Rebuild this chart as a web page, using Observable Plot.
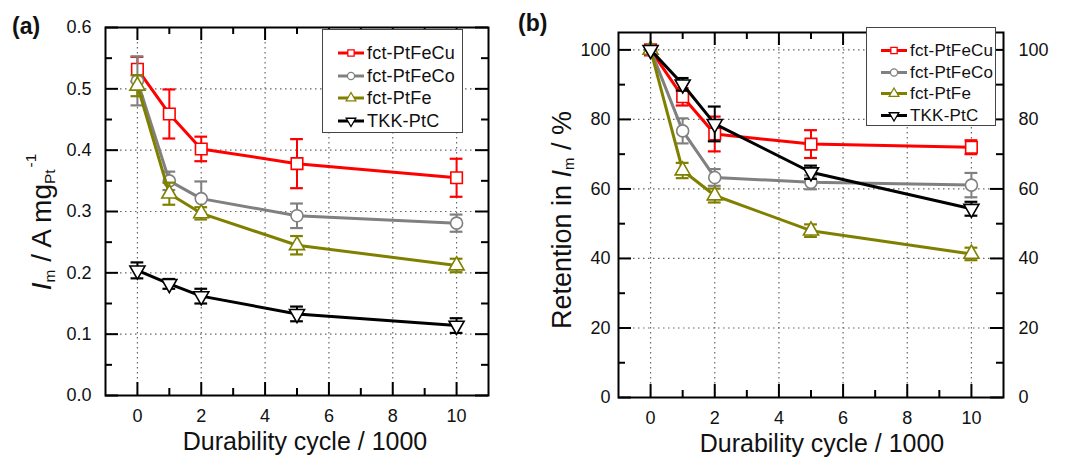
<!DOCTYPE html>
<html>
<head>
<meta charset="utf-8">
<script src="https://cdn.jsdelivr.net/npm/d3@7"></script>
<script src="https://cdn.jsdelivr.net/npm/@observablehq/plot@0.6"></script>
<style>
  body { margin: 0; background: #fff; font-family: "Liberation Sans", Arial, sans-serif; color: #111; }
  #wrap { position: relative; width: 1065px; height: 461px; overflow: hidden; }
  .panel { position: absolute; top: 0; }
  .panel svg { overflow: visible; }
  .plabel { position: absolute; font-weight: bold; font-size: 23px; line-height: 1; transform: translateY(-50%); }
  .ylab { position: absolute; white-space: nowrap; line-height: 1; transform: translate(-50%, -50%) rotate(-90deg); }
  .ylab sub { font-size: 0.55em; vertical-align: -0.2em; }
  .ylab sup { font-size: 0.55em; vertical-align: 1.0em; margin-left: 2px; }
  .legend { position: absolute; background: #fff; border: 1.5px solid #444; box-sizing: border-box; }
  .lrow { position: absolute; display: flex; align-items: center; white-space: nowrap; line-height: 1; transform: translateY(-50%); letter-spacing: 0.2px; }
  .lrow svg { display: block; margin-right: 3px; }
</style>
</head>
<body>
<div id="wrap"></div>
<script>
// ---------- data ----------
const cycles = [0, 1, 2, 5, 10];
const seriesNames = ["fct-PtFeCu", "fct-PtFeCo", "fct-PtFe", "TKK-PtC"];
const seriesColors = ["#ff0000", "#808080", "#808000", "#000000"];

// (a) mass activity, A mg_Pt^-1
const aPtFeCu = [0.532, 0.459, 0.402, 0.378, 0.355];
const aPtFeCuErr = [0.02, 0.04, 0.02, 0.04, 0.031];
const aPtFeCo = [0.513, 0.350, 0.321, 0.293, 0.281];
const aPtFeCoErr = [0.04, 0.015, 0.028, 0.02, 0.014];
const aPtFe = [0.505, 0.329, 0.297, 0.245, 0.212];
const aPtFeErr = [0.017, 0.018, 0.01, 0.015, 0.011];
const aPtC = [0.204, 0.182, 0.162, 0.133, 0.114];
const aPtCErr = [0.013, 0.008, 0.012, 0.012, 0.012];

// (b) retention, %
const bPtFeCu = [100, 86.5, 75.8, 72.9, 72.0];
const bPtFeCuErr = [0, 2.5, 5, 4, 2];
const bPtFeCo = [100, 76.7, 63.3, 61.9, 61.1];
const bPtFeCoErr = [0, 3.6, 2.4, 2, 3.5];
const bPtFe = [100, 65.3, 58.1, 48.0, 41.3];
const bPtFeErr = [0, 2.2, 2, 1.8, 1.8];
const bPtC = [100, 90.1, 78.7, 64.8, 54.3];
const bPtCErr = [0, 1.8, 5, 1.9, 2];

// ticks
const xTicks = [0, 2, 4, 6, 8, 10];
const xMinor = [1, 3, 5, 7, 9];
const aYTicks = [0, 0.1, 0.2, 0.3, 0.4, 0.5, 0.6];
const aYMinor = [0.05, 0.15, 0.25, 0.35, 0.45, 0.55];
const bYTicks = [0, 20, 40, 60, 80, 100];
const bYMinor = [10, 30, 50, 70, 90];

const xLabel = "Durability cycle / 1000";

// ---------- symbols ----------
const sqrt3 = Math.sqrt(3);
const triangleDown = {
  draw(context, size) {
    const y = -Math.sqrt(size / (sqrt3 * 3));
    context.moveTo(0, -y * 2);
    context.lineTo(-sqrt3 * y, y);
    context.lineTo(sqrt3 * y, y);
    context.closePath();
  }
};
const seriesSymbols = ["square", "circle", "triangle", triangleDown];
const seriesR = [6.5, 6, 5.6, 5.6];

function rows(vals, errs) {
  return cycles.map((x, i) => ({x, y: vals[i], e: errs[i]}));
}

function makePanel(o) {
  const pw = o.W - o.ml - o.mr, ph = o.H - o.mt - o.mb;
  const cap = 0.2;
  const tickStyle = {stroke: "#000", strokeWidth: 2};
  const marks = [
    Plot.gridX({ticks: xTicks, stroke: "#666", strokeOpacity: 1, strokeWidth: 1.2, strokeDasharray: "1.5,3.5"}),
    Plot.gridY({ticks: o.yTicks, stroke: "#666", strokeOpacity: 1, strokeWidth: 1.2, strokeDasharray: "1.5,3.5"})
  ];
  o.series.forEach((s, i) => {
    const d = rows(s.v, s.e);
    const de = d.filter(r => r.e > 0);
    const c = seriesColors[i];
    marks.push(
      Plot.line(d, {x: "x", y: "y", stroke: c, strokeWidth: 3}),
      Plot.ruleX(de, {x: "x", y1: r => r.y - r.e, y2: r => r.y + r.e, stroke: c, strokeWidth: 2}),
      Plot.ruleY(de, {y: r => r.y + r.e, x1: r => r.x - cap, x2: r => r.x + cap, stroke: c, strokeWidth: 2.2}),
      Plot.ruleY(de, {y: r => r.y - r.e, x1: r => r.x - cap, x2: r => r.x + cap, stroke: c, strokeWidth: 2.2}),
      Plot.dot(d, {x: "x", y: "y", r: seriesR[i], symbol: seriesSymbols[i], stroke: c, fill: "#fff", strokeWidth: 1.6})
    );
  });
  marks.push(
    Plot.frame({stroke: "#000", strokeWidth: 2}),
    // inward major/minor ticks on all four sides
    Plot.tickY(o.yTicks, {y: d => d, insetRight: pw - 13, ...tickStyle}),
    Plot.tickY(o.yMinor, {y: d => d, insetRight: pw - 7, ...tickStyle}),
    Plot.tickY(o.yTicks, {y: d => d, insetLeft: pw - 13, ...tickStyle}),
    Plot.tickY(o.yMinor, {y: d => d, insetLeft: pw - 7, ...tickStyle}),
    Plot.tickX(xTicks, {x: d => d, insetTop: ph - 13, ...tickStyle}),
    Plot.tickX(xMinor, {x: d => d, insetTop: ph - 7, ...tickStyle}),
    Plot.tickX(xTicks, {x: d => d, insetBottom: ph - 13, ...tickStyle}),
    Plot.tickX(xMinor, {x: d => d, insetBottom: ph - 7, ...tickStyle}),
    Plot.axisY({ticks: o.yTicks, tickSize: 0, tickPadding: o.yPad, tickFormat: o.yFmt, fontSize: 18, label: null}),
    Plot.axisX({ticks: xTicks, tickSize: 0, tickPadding: 14, fontSize: 18, label: null}),
    Plot.text([xLabel], {text: d => d, frameAnchor: "bottom", dy: o.xlDy, dx: o.xlDx, fontSize: 25, fill: "#111"})
  );
  if (o.rightAxis) {
    marks.push(Plot.axisY({anchor: "right", ticks: o.yTicks, tickSize: 0, tickPadding: 15, tickFormat: o.yFmt, fontSize: 18, label: null}));
  }
  return Plot.plot({
    width: o.W, height: o.H,
    marginLeft: o.ml, marginRight: o.mr, marginTop: o.mt, marginBottom: o.mb,
    x: {domain: [-1, 11]},
    y: {domain: o.yDomain},
    style: {fontFamily: '"Liberation Sans", Arial, sans-serif', color: "#111", background: "transparent", overflow: "visible"},
    marks
  });
}

const wrap = document.getElementById("wrap");

function addPanel(left, node) {
  const div = document.createElement("div");
  div.className = "panel";
  div.style.left = left + "px";
  div.appendChild(node);
  wrap.appendChild(div);
}

addPanel(0, makePanel({
  W: 530, H: 461, ml: 105, mr: 42, mt: 27, mb: 66,
  yDomain: [0, 0.6], yTicks: aYTicks, yMinor: aYMinor, yFmt: d3.format(".1f"), yPad: 14,
  xlDy: 54, xlDx: 8, rightAxis: false,
  series: [
    {v: aPtFeCu, e: aPtFeCuErr}, {v: aPtFeCo, e: aPtFeCoErr},
    {v: aPtFe, e: aPtFeErr}, {v: aPtC, e: aPtCErr}
  ]
}));

addPanel(530, makePanel({
  W: 535, H: 461, ml: 88, mr: 62, mt: 32, mb: 64,
  yDomain: [0, 105], yTicks: bYTicks, yMinor: bYMinor, yFmt: d3.format("d"), yPad: 8,
  xlDy: 54, xlDx: 11, rightAxis: true,
  series: [
    {v: bPtFeCu, e: bPtFeCuErr}, {v: bPtFeCo, e: bPtFeCoErr},
    {v: bPtFe, e: bPtFeErr}, {v: bPtC, e: bPtCErr}
  ]
}));

// panel letters
function addHTML(cls, html, styles) {
  const d = document.createElement("div");
  d.className = cls;
  d.innerHTML = html;
  Object.assign(d.style, styles);
  wrap.appendChild(d);
  return d;
}
addHTML("plabel", "(a)", {left: "12px", top: "26px"});
addHTML("plabel", "(b)", {left: "518px", top: "23px"});

// rotated y-axis titles
addHTML("ylab", "<i>I</i><sub>m</sub> / A mg<sub>Pt</sub><sup>-1</sup>", {left: "40px", top: "222px", fontSize: "28px"});
addHTML("ylab", "Retention in <i>I</i><sub>m</sub> / %", {left: "563px", top: "220px", fontSize: "27px"});

// legends
function sampleSVG(i) {
  const svg = d3.create("svg").attr("width", 26).attr("height", 14);
  const c = seriesColors[i];
  svg.append("line").attr("x1", 0).attr("x2", 26).attr("y1", 7).attr("y2", 7).attr("stroke", c).attr("stroke-width", 3);
  const sym = typeof seriesSymbols[i] === "string"
    ? {square: d3.symbolSquare, circle: d3.symbolCircle, triangle: d3.symbolTriangle}[seriesSymbols[i]]
    : seriesSymbols[i];
  svg.append("path").attr("transform", "translate(13,7)")
    .attr("d", d3.symbol(sym, 40)).attr("fill", "#fff").attr("stroke", c).attr("stroke-width", 1.3);
  return svg.node();
}
function addLegend(box, rowYs, sampleLeft, fontSize) {
  const lg = document.createElement("div");
  lg.className = "legend";
  Object.assign(lg.style, {left: box[0] + "px", top: box[1] + "px", width: box[2] + "px", height: box[3] + "px"});
  wrap.appendChild(lg);
  seriesNames.forEach((name, i) => {
    const r = document.createElement("div");
    r.className = "lrow";
    Object.assign(r.style, {left: sampleLeft + "px", top: rowYs[i] + "px", fontSize: fontSize + "px"});
    r.appendChild(sampleSVG(i));
    const t = document.createElement("span");
    t.textContent = name;
    r.appendChild(t);
    wrap.appendChild(r);
  });
}
addLegend([322, 29, 141, 104], [53, 76, 98, 121], 338, 18);
addLegend([866, 27, 130, 99], [50, 72, 93, 115], 881, 17);
</script>
</body>
</html>
